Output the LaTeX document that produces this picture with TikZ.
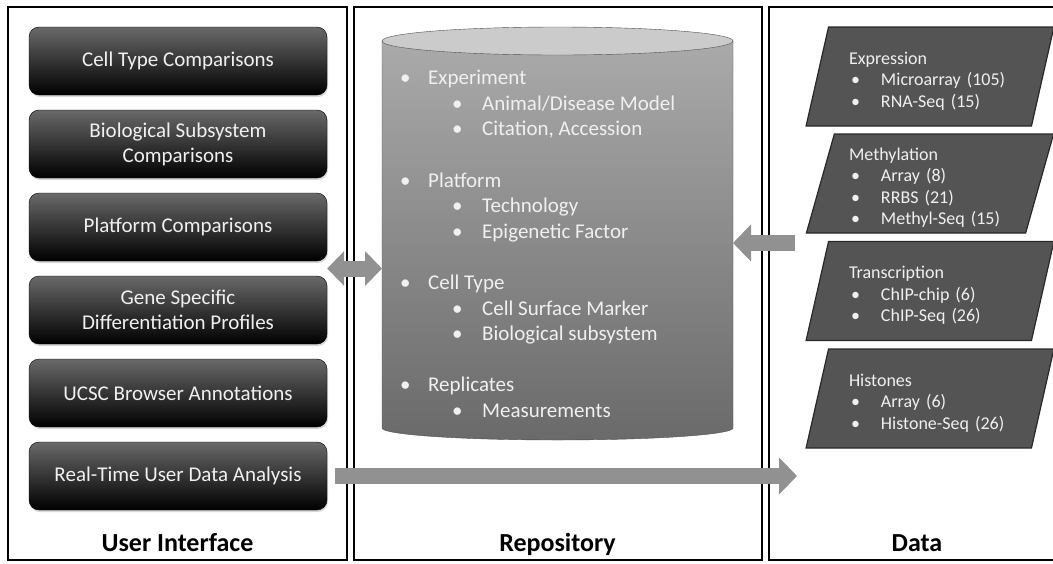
\documentclass[tikz,border=0pt]{standalone}
\usepackage{fontspec}
\setmainfont{Carlito}
\usepackage{xcolor}
\usepackage{tikz}
\usetikzlibrary{calc, arrows.meta, shapes.geometric, shadows}

\definecolor{btntop}{RGB}{105,105,105}
\definecolor{cyltop}{RGB}{203,203,203}
\definecolor{cylhi}{RGB}{170,170,170}
\definecolor{cyllo}{RGB}{106,106,106}
\definecolor{cylline}{RGB}{80,80,80}
\definecolor{boxfill}{RGB}{84,84,84}
\definecolor{boxline}{RGB}{40,40,40}
\definecolor{arrowgray}{RGB}{145,145,145}
\definecolor{softwhite}{RGB}{240,240,240}

\newcommand{\lvlone}[1]{\makebox[28pt][l]{\textbullet}#1}
\newcommand{\lvltwo}[1]{\hspace*{52pt}\makebox[30pt][l]{\textbullet}#1}
\newcommand{\dataitem}[1]{\hspace*{2pt}\makebox[30pt][l]{\textbullet}#1}

\begin{document}
\begin{tikzpicture}[x=1pt, y=-1pt]
		\tikzstyle{panel} = [draw=black, line width=2.5pt]
		\tikzstyle{title} = [font=\fontsize{26}{30}\selectfont\bfseries, anchor=base, inner sep=0pt]
		\tikzstyle{button} = [draw=black, rounded corners=10pt, top color=btntop, middle color=black, bottom color=black, text=softwhite, minimum width=298pt, minimum height=68pt, align=center, font=\fontsize{21}{25}\selectfont, drop shadow={opacity=0.3, shadow xshift=1pt, shadow yshift=-2pt}]
		\tikzstyle{databox} = [trapezium, trapezium left angle=75, trapezium right angle=105, trapezium stretches=true, draw=boxline, fill=boxfill, line width=1.2pt, text=softwhite, minimum width=248pt, minimum height=99pt, inner sep=0pt, text width=162pt, align=left, font=\fontsize{18}{21.5}\selectfont, execute at begin node=\rule{0pt}{21pt}]
		\tikzstyle{blockarrow} = [draw=arrowgray, line width=16pt, -{Triangle[length=18pt, width=36pt]}]
		\tikzstyle{dblarrow} = [draw=arrowgray, line width=16pt, {Triangle[length=17pt, width=34pt]}-{Triangle[length=17pt, width=34pt]}]
		
		\useasboundingbox[fill=white] (0,0) rectangle (1053,563);
		
		% the three columns
		\draw[panel] (8,7) rectangle (347,560);
		\draw[panel] (354,7) rectangle (762,560);
		\draw[panel] (769,7) rectangle (1070,560);
		
		\node[title] 	at (177.5, 551) 	(uititle) 	{User Interface};
		\node[title] 	at (557.5, 551) 	(repotitle) 	{Repository};
		\node[title] 	at (917, 551) 	(datatitle) 	{Data};
		
		% user interface
		\node[button] 	at (178, 61) 	(cellcmp) 	{Cell Type Comparisons};
		\node[button] 	at (178, 144) 	(biocmp) 	{Biological Subsystem\\Comparisons};
		\node[button] 	at (178, 227) 	(platcmp) 	{Platform Comparisons};
		\node[button] 	at (178, 310) 	(geneprof) 	{Gene Specific\\Differentiation Profiles};
		\node[button] 	at (178, 393) 	(ucsc) 	{UCSC Browser Annotations};
		\node[button] 	at (178, 476) 	(realtime) 	{Real-Time User Data Analysis};
		
		% repository
		\draw[draw=cylline, top color=cylhi, bottom color=cyllo] (382,41) -- (382,428)
			arc[start angle=180, end angle=360, x radius=175.5pt, y radius=12pt] -- (733,41) -- cycle;
		\draw[draw=cylline, fill=cyltop] (557.5,41) ellipse [x radius=175.5pt, y radius=14pt];
		\coordinate (cylleft) at (382,41);
		\coordinate (cylright) at (733,41);
		
		\node[anchor=north west, inner sep=0pt, align=left, text=softwhite, font=\fontsize{21}{25.6}\selectfont] at (400, 70) (repo) {%
			\lvlone{Experiment}\\
			\lvltwo{Animal/Disease Model}\\
			\lvltwo{Citation, Accession}\\[25.6pt]
			\lvlone{Platform}\\
			\lvltwo{Technology}\\
			\lvltwo{Epigenetic Factor}\\[25.6pt]
			\lvlone{Cell Type}\\
			\lvltwo{Cell Surface Marker}\\
			\lvltwo{Biological subsystem}\\[25.6pt]
			\lvlone{Replicates}\\
			\lvltwo{Measurements}};
		
		% data
		\node[databox] 	at (930, 76.5) 	(expr) 	{Expression\\ \dataitem{Microarray (105)}\\ \dataitem{RNA-Seq (15)}};
		\node[databox] 	at (930, 183.5) 	(methyl) 	{Methylation\\ \dataitem{Array (8)}\\ \dataitem{RRBS (21)}\\ \dataitem{Methyl-Seq (15)}};
		\node[databox] 	at (930, 291) 	(transc) 	{Transcription\\ \dataitem{ChIP-chip (6)}\\ \dataitem{ChIP-Seq (26)}};
		\node[databox] 	at (930, 398.5) 	(histone) 	{Histones\\ \dataitem{Array (6)}\\ \dataitem{Histone-Seq (26)}};
		
		% arrows
		\coordinate (gap) at ($(platcmp.south east)!0.5!(geneprof.north east)$);
		\coordinate (datain) at (795, 243);
		\coordinate (dataout) at (797, 476);
		
		\draw[dblarrow] (gap) -- (gap -| cylleft);
		\draw[blockarrow] (datain) -- (datain -| cylright);
		\draw[blockarrow] ($(realtime.east)+(8,0)$) -- (realtime.east -| dataout);
\end{tikzpicture}
\end{document}
